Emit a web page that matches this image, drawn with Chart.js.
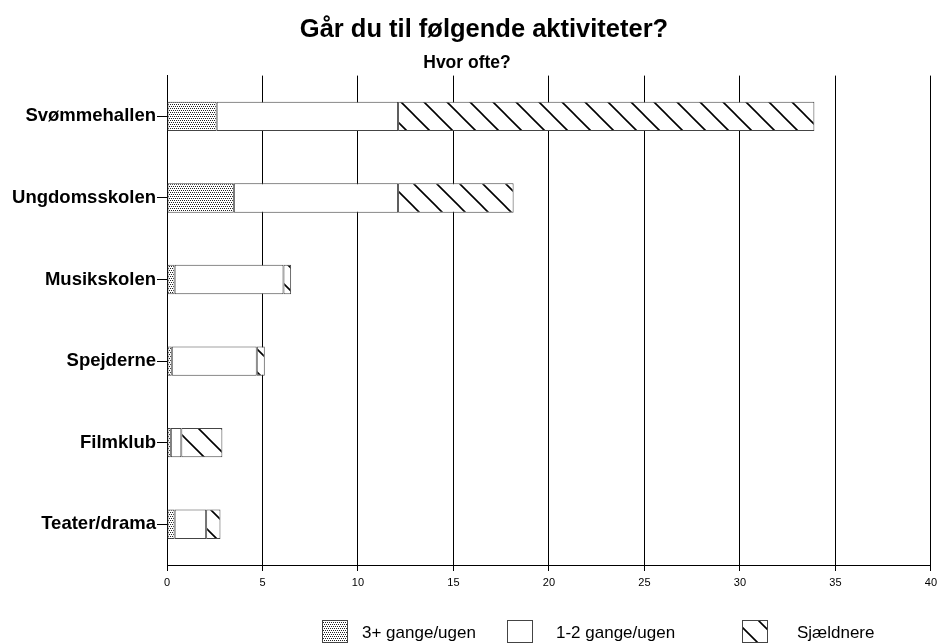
<!DOCTYPE html>
<html><head><meta charset="utf-8">
<script src="https://cdn.jsdelivr.net/npm/chart.js@4/dist/chart.umd.min.js"></script>
<style>html,body{margin:0;padding:0;background:#fff}#wrap{width:942px;height:643px}</style>
</head><body><div id="wrap"><canvas id="c" width="942" height="643"></canvas></div>
<script>
const categories = ['Svømmehallen','Ungdomsskolen','Musikskolen','Spejderne','Filmklub','Teater/drama'];
const seriesNames = ['3+ gange/ugen','1-2 gange/ugen','Sjældnere'];
const threePlus = [2.6, 3.5, 0.4, 0.25, 0.2, 0.4];
const oneTwo = [9.5, 8.6, 5.7, 4.45, 0.55, 1.65];
const rarer = [21.8, 6.05, 0.4, 0.42, 2.15, 0.75];
const xTicks = [0,5,10,15,20,25,30,35,40];

const FONT='"Liberation Sans", Arial, sans-serif';
function dotPattern(){
  const c=document.createElement('canvas');c.width=4;c.height=4;const g=c.getContext('2d');
  g.fillStyle='#fff';g.fillRect(0,0,4,4);g.fillStyle='#222';
  [[0,0],[2,0],[1,2],[3,2]].forEach(p=>g.fillRect(p[0],p[1],1,1));
  return g.createPattern(c,'repeat');
}
function hatchPattern(){
  const s=23;const c=document.createElement('canvas');c.width=s;c.height=s;const g=c.getContext('2d');
  g.fillStyle='#fff';g.fillRect(0,0,s,s);g.strokeStyle='#000';g.lineWidth=1.6;
  g.beginPath();g.moveTo(-2,-2);g.lineTo(s+2,s+2);g.moveTo(-2,s-2);g.lineTo(2,s+2);g.moveTo(s-2,-2);g.lineTo(s+2,2);g.stroke();
  return g.createPattern(c,'repeat');
}
const fills=[dotPattern(),'#ffffff',hatchPattern()];
const values=[threePlus,oneTwo,rarer];

const legendBoxX=[322,507,742];
const legendTextX=[362,556,797];
const legendPlugin={id:'customLegend',
  afterLayout(chart){ if(chart.titleBlock){chart.titleBlock.left+=34;} },
  afterDraw(chart){
  const ctx=chart.ctx;ctx.save();
  ctx.font='17px '+FONT;ctx.textBaseline='middle';
  const boxW=25,boxH=22,y=620;
  chart.data.datasets.forEach((d,i)=>{
    const x=legendBoxX[i];
    ctx.fillStyle=d.backgroundColor;ctx.fillRect(x,y,boxW,boxH);
    ctx.strokeStyle='#444';ctx.lineWidth=1;ctx.strokeRect(x+0.5,y+0.5,boxW,boxH);
    ctx.fillStyle='#000';ctx.fillText(d.label,legendTextX[i],y+13);
  });
  ctx.restore();
}};

new Chart(document.getElementById('c'),{
  type:'bar',
  data:{labels:categories,datasets:seriesNames.map((n,i)=>({label:n,data:values[i],backgroundColor:fills[i],borderColor:'#444',borderWidth:1,borderSkipped:false,barPercentage:0.36,categoryPercentage:1}))},
  options:{
    indexAxis:'y',responsive:false,animation:false,
    layout:{padding:{left:0,right:8,top:0,bottom:48}},
    plugins:{
      legend:{display:false},tooltip:{enabled:false},
      title:{display:true,text:'Går du til følgende aktiviteter?',color:'#000',font:{family:FONT,size:25.5,weight:'bold'},padding:{top:15,bottom:3}},
      subtitle:{display:true,text:'Hvor ofte?',color:'#000',font:{family:FONT,size:17.5,weight:'bold'},padding:{top:4,bottom:2}}
    },
    scales:{
      x:{stacked:true,min:0,max:40,
        afterBuildTicks(s){s.ticks=xTicks.map(v=>({value:v}));},
        afterFit(s){s.height=30;},
        grid:{color:'#000',lineWidth:1,tickLength:6,drawTicks:true},
        border:{color:'#000',width:1},
        ticks:{color:'#000',padding:5,font:{family:FONT,size:11}}},
      y:{stacked:true,
        afterFit(s){s.width=167;},
        grid:{display:true,drawOnChartArea:false,offset:false,color:'#000',tickLength:10},
        border:{color:'#000',width:1},
        ticks:{color:'#000',padding:1,font:{family:FONT,size:18.5,weight:'bold'}}}
    }
  },
  plugins:[legendPlugin]
});
</script></body></html>
